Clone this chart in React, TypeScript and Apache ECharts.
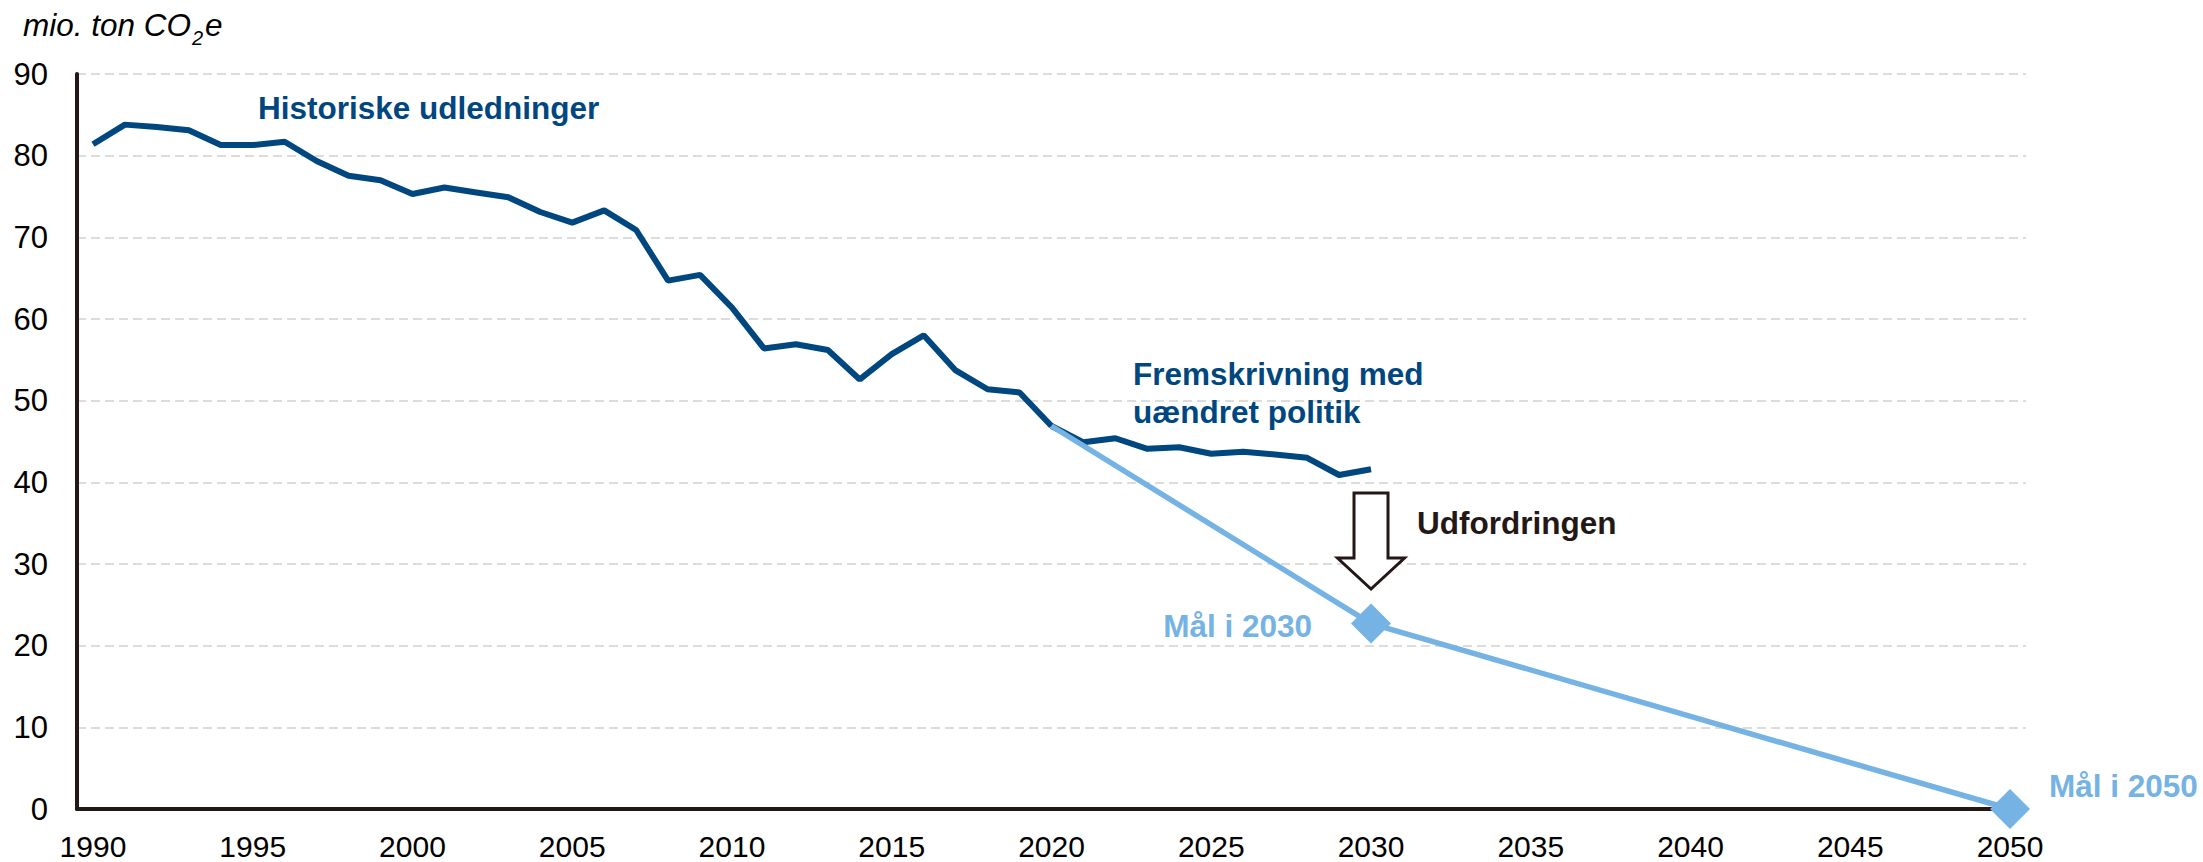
import React, { useEffect, useRef } from "react";
import * as echarts from "echarts";

const FONT = '"Liberation Sans", Arial, Helvetica, sans-serif';
const DARK_BLUE = "#00477f";
const LIGHT_BLUE = "#74b3e3";
const AXIS_COLOR = "#231815";

// Categories: years 1990–2050
const years: string[] = [];
for (let y = 1990; y <= 2050; y++) years.push(String(y));

// Historical emissions 1990–2020 (mio. ton CO2e)
const historicalYears = [
  "1990", "1991", "1992", "1993", "1994", "1995", "1996", "1997", "1998", "1999",
  "2000", "2001", "2002", "2003", "2004", "2005", "2006", "2007", "2008", "2009",
  "2010", "2011", "2012", "2013", "2014", "2015", "2016", "2017", "2018", "2019", "2020",
];
const historicalValues = [
  81.4, 83.8, 83.5, 83.1, 81.3, 81.3, 81.7, 79.35, 77.55, 77.0,
  75.3, 76.1, 75.5, 74.9, 73.1, 71.8, 73.3, 70.9, 64.7, 65.4,
  61.4, 56.4, 56.9, 56.2, 52.6, 55.7, 58.0, 53.7, 51.4, 51.0, 46.9,
];

// Projection with unchanged policy 2020–2030
const projectionYears = ["2020", "2021", "2022", "2023", "2024", "2025", "2026", "2027", "2028", "2029", "2030"];
const projectionValues = [46.9, 44.9, 45.4, 44.1, 44.3, 43.5, 43.75, 43.4, 43.0, 40.9, 41.6];

// Target path
const targetYears = ["2020", "2030", "2050"];
const targetValues = [46.9, 22.7, 0];
const targetSymbols = ["none", "diamond", "diamond"];

const yTicks = { min: 0, max: 90, interval: 10 };

function alignTo(cats: string[], keys: string[], vals: number[]) {
  return cats.map((c) => {
    const i = keys.indexOf(c);
    return i >= 0 ? vals[i] : null;
  });
}

export default function App() {
  const ref = useRef<HTMLDivElement>(null);

  useEffect(() => {
    document.body.style.margin = "0";
    if (!ref.current) return;
    const chart = echarts.init(ref.current, undefined, { renderer: "svg" });

    const targetData = years.map((c) => {
      const i = targetYears.indexOf(c);
      if (i < 0) return null;
      return { value: targetValues[i], symbol: targetSymbols[i] };
    });

    chart.setOption({
      animation: false,
      backgroundColor: "#ffffff",
      textStyle: { fontFamily: FONT },
      grid: { left: 77, right: 177, top: 74, bottom: 53, containLabel: false, outerBoundsMode: "none" },
      xAxis: {
        type: "category",
        data: years,
        boundaryGap: true,
        axisLine: { show: true, lineStyle: { color: AXIS_COLOR, width: 4 } },
        axisTick: { show: false },
        axisLabel: {
          interval: 4,
          color: "#000000",
          fontSize: 30,
          lineHeight: 30,
          fontFamily: FONT,
          margin: 22,
        },
        splitLine: { show: false },
      },
      yAxis: {
        type: "value",
        min: yTicks.min,
        max: yTicks.max,
        interval: yTicks.interval,
        axisLine: { show: true, lineStyle: { color: AXIS_COLOR, width: 4 } },
        axisTick: { show: false },
        axisLabel: { color: "#000000", fontSize: 31, fontFamily: FONT, margin: 29 },
        splitLine: { show: true, lineStyle: { color: "#dcdcdc", width: 2, type: [9, 5] } },
      },
      series: [
        {
          name: "Historiske udledninger",
          type: "line",
          data: alignTo(years, historicalYears, historicalValues),
          showSymbol: false,
          symbol: "none",
          lineStyle: { color: DARK_BLUE, width: 6 },
          z: 3,
        },
        {
          name: "Fremskrivning med uændret politik",
          type: "line",
          data: alignTo(years, projectionYears, projectionValues),
          showSymbol: false,
          symbol: "none",
          lineStyle: { color: DARK_BLUE, width: 6 },
          z: 3,
        },
        {
          name: "Mål",
          type: "line",
          data: targetData,
          connectNulls: true,
          symbolSize: 40,
          itemStyle: { color: LIGHT_BLUE },
          lineStyle: { color: LIGHT_BLUE, width: 5.5 },
          clip: false,
          z: 4,
        },
      ],
    });

    const cx = chart.convertToPixel({ xAxisIndex: 0 }, "2030") as number;

    const bold = (text: string, x: number, y: number, color: string, align = "left") => ({
      type: "text",
      x,
      y,
      style: {
        text,
        fill: color,
        font: `bold 31.5px ${FONT}`,
        align,
        verticalAlign: "middle",
      },
      z: 10,
    });

    chart.setOption({
      graphic: [
        {
          type: "text",
          x: 23,
          y: 25,
          style: { text: "mio. ton CO", fill: "#000", font: `italic 31.5px ${FONT}`, verticalAlign: "middle" },
        },
        {
          type: "text",
          x: 192,
          y: 38,
          style: { text: "2", fill: "#000", font: `italic 20px ${FONT}`, verticalAlign: "middle" },
        },
        {
          type: "text",
          x: 205,
          y: 25,
          style: { text: "e", fill: "#000", font: `italic 31.5px ${FONT}`, verticalAlign: "middle" },
        },
        bold("Historiske udledninger", 258, 108, DARK_BLUE),
        bold("Fremskrivning med", 1133, 374, DARK_BLUE),
        bold("uændret politik", 1133, 412, DARK_BLUE),
        bold("Udfordringen", 1417, 523, AXIS_COLOR),
        bold("Mål i 2030", 1312, 626, LIGHT_BLUE, "right"),
        bold("Mål i 2050", 2049, 786, LIGHT_BLUE),
        {
          type: "polygon",
          shape: {
            points: [
              [cx - 17, 493],
              [cx + 17, 493],
              [cx + 17, 558],
              [cx + 33.5, 558],
              [cx, 589],
              [cx - 33.5, 558],
              [cx - 17, 558],
            ],
          },
          style: { fill: "#ffffff", stroke: AXIS_COLOR, lineWidth: 3 },
          z: 10,
        },
      ],
    });

    return () => chart.dispose();
  }, []);

  return <div ref={ref} style={{ width: 2203, height: 862 }} />;
}
